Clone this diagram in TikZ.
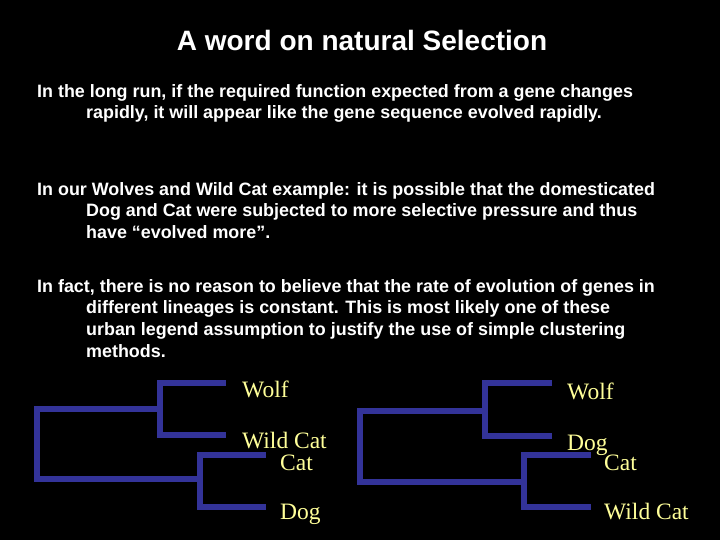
\documentclass[tikz,border=0pt]{standalone}
\usepackage{fontspec}
\setmainfont{Liberation Serif}
\setsansfont{Liberation Sans}
\begin{document}
\begin{tikzpicture}[x=1pt,y=-1pt,
  branch/.style={line width=6pt, line cap=rect, draw={rgb,255:red,51;green,51;blue,153}},
  body/.style={anchor=north west, align=left, white, font=\sffamily\bfseries\fontsize{17.9}{21.7}\selectfont, inner sep=0pt},
  taxon/.style={anchor=base west, inner sep=0pt, text={rgb,255:red,255;green,255;blue,153}, font=\fontsize{23.5}{25}\selectfont}]
    \fill[black] (0,0) rectangle (720,540);
    \useasboundingbox (0,0) rectangle (720,540);

    \node (title) at (362,40) [white, font=\sffamily\bfseries\fontsize{28}{30}\selectfont] {A word on natural Selection};

    \node (p1) at (37,84) [body] {In the long run, if the required function expected from a gene changes\\
      \hspace*{49pt}rapidly, it will appear like the gene sequence evolved rapidly.};
    \node (p2) at (37,182) [body] {In our Wolves and Wild Cat example: it is possible that the domesticated\\
      \hspace*{49pt}Dog and Cat were subjected to more selective pressure and thus\\
      \hspace*{49pt}have “evolved more”.};
    \node (p3) at (37,279) [body] {In fact, there is no reason to believe that the rate of evolution of genes in\\
      \hspace*{49pt}different lineages is constant. This is most likely one of these\\
      \hspace*{49pt}urban legend assumption to justify the use of simple clustering\\
      \hspace*{49pt}methods.};

    % left tree
    \draw [branch] (223,383) -| (160,435) -- (223,435);
    \draw [branch] (263,455) -| (200,507) -- (263,507);
    \draw [branch] (160,409) -| (37,479) -- (200,479);
    \node (lwolf) at (242,397) [taxon] {Wolf};
    \node (lwild) at (242,448) [taxon] {Wild Cat};
    \node (lcat) at (280,470) [taxon] {Cat};
    \node (ldog) at (280,519) [taxon] {Dog};

    % right tree
    \draw [branch] (549,383) -| (485,436) -- (549,436);
    \draw [branch] (588,455) -| (524,507) -- (588,507);
    \draw [branch] (485,411) -| (360,482) -- (524,482);
    \node (rwolf) at (567,399) [taxon] {Wolf};
    \node (rdog) at (567,450) [taxon] {Dog};
    \node (rcat) at (604,470) [taxon] {Cat};
    \node (rwild) at (604,519) [taxon] {Wild Cat};
\end{tikzpicture}
\end{document}
